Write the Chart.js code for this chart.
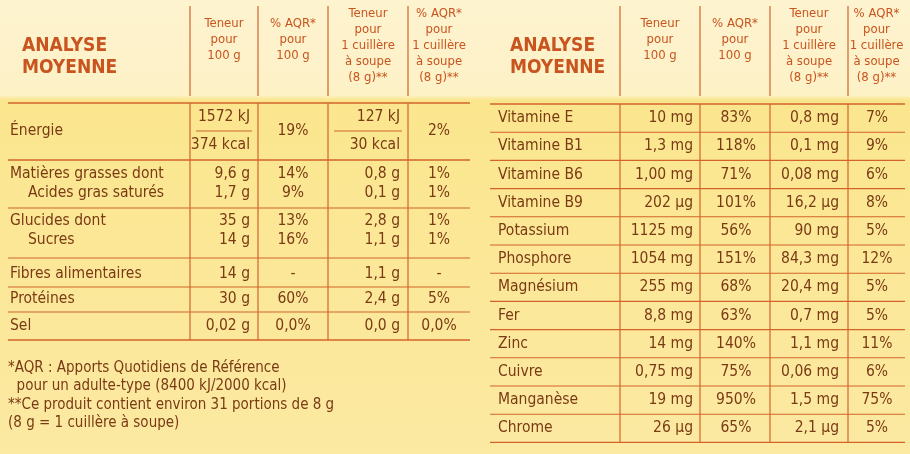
<!DOCTYPE html>
<html>
<head>
<meta charset="utf-8">
<script src="https://cdn.jsdelivr.net/npm/chart.js@4/dist/chart.umd.min.js"></script>
<style>
  html, body { margin: 0; padding: 0; background: #fbe690; }
  canvas { display: block; }
</style>
</head>
<body>
<canvas id="table" width="910" height="454"></canvas>
<script>
// Nutrition table values
const leftHeaders = [
    ['Teneur', 'pour', '100 g'],
    ['% AQR*', 'pour', '100 g'],
    ['Teneur', 'pour', '1 cuillère', 'à soupe', '(8 g)**'],
    ['% AQR*', 'pour', '1 cuillère', 'à soupe', '(8 g)**']
];
const leftLabels = ['Matières grasses dont', '  Acides gras saturés', 'Glucides dont', '  Sucres', 'Fibres alimentaires', 'Protéines', 'Sel'];
const leftPer100 = ['9,6 g', '1,7 g', '35 g', '14 g', '14 g', '30 g', '0,02 g'];
const leftAqr100 = ['14%', '9%', '13%', '16%', '-', '60%', '0,0%'];
const leftPer8 = ['0,8 g', '0,1 g', '2,8 g', '1,1 g', '1,1 g', '2,4 g', '0,0 g'];
const leftAqr8 = ['1%', '1%', '1%', '1%', '-', '5%', '0,0%'];
const energy = { label: 'Énergie', kj100: '1572 kJ', kcal100: '374 kcal', aqr100: '19%', kj8: '127 kJ', kcal8: '30 kcal', aqr8: '2%' };

const rightLabels = ['Vitamine E', 'Vitamine B1', 'Vitamine B6', 'Vitamine B9', 'Potassium', 'Phosphore', 'Magnésium', 'Fer', 'Zinc', 'Cuivre', 'Manganèse', 'Chrome'];
const rightPer100 = ['10 mg', '1,3 mg', '1,00 mg', '202 µg', '1125 mg', '1054 mg', '255 mg', '8,8 mg', '14 mg', '0,75 mg', '19 mg', '26 µg'];
const rightAqr100 = ['83%', '118%', '71%', '101%', '56%', '151%', '68%', '63%', '140%', '75%', '950%', '65%'];
const rightPer8 = ['0,8 mg', '0,1 mg', '0,08 mg', '16,2 µg', '90 mg', '84,3 mg', '20,4 mg', '0,7 mg', '1,1 mg', '0,06 mg', '1,5 mg', '2,1 µg'];
const rightAqr8 = ['7%', '9%', '6%', '8%', '5%', '12%', '5%', '5%', '11%', '6%', '75%', '5%'];

const footnotes = [
    '*AQR : Apports Quotidiens de Référence',
    '  pour un adulte-type (8400 kJ/2000 kcal)',
    '**Ce produit contient environ 31 portions de 8 g',
    '(8 g = 1 cuillère à soupe)'
];

const ORANGE = '#d2642a';
const HEAD = '#c9541f';
const TEXT = '#7a3a14';
const FONT = '"Liberation Sans Narrow", "DejaVu Sans Condensed", "Roboto", sans-serif';

function txt(ctx, s, x, y, align, size, color, bold) {
    ctx.font = `${bold ? 'bold ' : ''}${size}px ${FONT}`;
    ctx.textAlign = align;
    ctx.fillStyle = color;
    ctx.fillText(s, x, y);
}
function hline(ctx, x1, x2, y, w) {
    ctx.strokeStyle = ORANGE; ctx.lineWidth = w || 1.2;
    ctx.beginPath(); ctx.moveTo(x1, y); ctx.lineTo(x2, y); ctx.stroke();
}
function vline(ctx, x, y1, y2) {
    ctx.strokeStyle = ORANGE; ctx.lineWidth = 1.2;
    ctx.beginPath(); ctx.moveTo(x, y1); ctx.lineTo(x, y2); ctx.stroke();
}

function drawHeader(ctx, x0, cols, headers) {
    txt(ctx, 'ANALYSE', x0, 46, 'left', 19, HEAD, true);
    txt(ctx, 'MOYENNE', x0, 68, 'left', 19, HEAD, true);
    headers.forEach((lines, i) => {
        const cx = (cols[i] + cols[i + 1]) / 2;
        const start = lines.length === 3 ? 24 : 14;
        lines.forEach((l, j) => txt(ctx, l, cx, start + j * 16, 'center', 13, HEAD, false));
    });
    cols.slice(0, 4).forEach(x => vline(ctx, x, 6, 96));
}

const tablePlugin = {
    id: 'tablePlugin',
    beforeDraw(chart) {
        const ctx = chart.ctx;
        const g = ctx.createLinearGradient(0, 0, 0, 454);
        g.addColorStop(0, '#fdf3cf');
        g.addColorStop(0.21, '#fdf1c6');
        g.addColorStop(0.22, '#fbe68e');
        g.addColorStop(1, '#fce9a2');
        ctx.fillStyle = g;
        ctx.fillRect(0, 0, 910, 454);
    },
    afterDraw(chart) {
        const ctx = chart.ctx;
        ctx.textBaseline = 'middle';
        // Left table
        const L = [190, 258, 328, 408, 470];
        drawHeader(ctx, 22, L, leftHeaders);
        const top = 103, eBot = 160;
        hline(ctx, 8, 470, top, 1.4);
        txt(ctx, energy.label, 10, 131, 'left', 15.5, TEXT);
        txt(ctx, energy.kj100, 250, 117, 'right', 15.5, TEXT);
        txt(ctx, energy.kcal100, 250, 145, 'right', 15.5, TEXT);
        txt(ctx, energy.aqr100, 293, 131, 'center', 15.5, TEXT);
        txt(ctx, energy.kj8, 400, 117, 'right', 15.5, TEXT);
        txt(ctx, energy.kcal8, 400, 145, 'right', 15.5, TEXT);
        txt(ctx, energy.aqr8, 439, 131, 'center', 15.5, TEXT);
        hline(ctx, 196, 252, 131, 1);
        hline(ctx, 334, 402, 131, 1);
        hline(ctx, 8, 470, eBot, 1.4);
        const rowY = [174, 193, 221, 240, 274, 299, 326];
        const lines = [208, 258, 287, 312, 340];
        leftLabels.forEach((lab, i) => {
            const y = rowY[i];
            txt(ctx, lab.trim(), lab.startsWith('  ') ? 28 : 10, y, 'left', 15.5, TEXT);
            txt(ctx, leftPer100[i], 250, y, 'right', 15.5, TEXT);
            txt(ctx, leftAqr100[i], 293, y, 'center', 15.5, TEXT);
            txt(ctx, leftPer8[i], 400, y, 'right', 15.5, TEXT);
            txt(ctx, leftAqr8[i], 439, y, 'center', 15.5, TEXT);
        });
        lines.forEach((y, i) => hline(ctx, 8, 470, y, i === lines.length - 1 ? 1.4 : 1.1));
        L.slice(0, 4).forEach(x => vline(ctx, x, top, 340));

        // Right table
        const R = [620, 700, 770, 848, 905];
        drawHeader(ctx, 510, R, leftHeaders);
        const rTop = 104, rh = 28.2;
        hline(ctx, 490, 905, rTop, 1.4);
        rightLabels.forEach((lab, i) => {
            const y = rTop + rh * (i + 0.5);
            txt(ctx, lab, 498, y, 'left', 15.5, TEXT);
            txt(ctx, rightPer100[i], 693, y, 'right', 15.5, TEXT);
            txt(ctx, rightAqr100[i], 736, y, 'center', 15.5, TEXT);
            txt(ctx, rightPer8[i], 839, y, 'right', 15.5, TEXT);
            txt(ctx, rightAqr8[i], 877, y, 'center', 15.5, TEXT);
            hline(ctx, 490, 905, rTop + rh * (i + 1), i === rightLabels.length - 1 ? 1.4 : 1.1);
        });
        R.slice(0, 4).forEach(x => vline(ctx, x, rTop, rTop + rh * 12));

        // Footnotes
        footnotes.forEach((f, i) => txt(ctx, f, 8, 368 + i * 18.5, 'left', 15, TEXT));
    }
};

new Chart(document.getElementById('table'), {
    type: 'bar',
    data: { labels: [], datasets: [] },
    options: {
        responsive: false,
        animation: false,
        events: [],
        plugins: { legend: { display: false }, tooltip: { enabled: false } },
        scales: { x: { display: false }, y: { display: false } }
    },
    plugins: [tablePlugin]
});
</script>
</body>
</html>
